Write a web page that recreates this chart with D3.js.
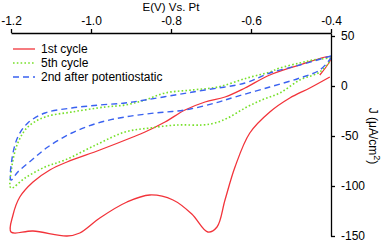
<!DOCTYPE html>
<html>
<head>
<meta charset="utf-8">
<script src="https://cdn.jsdelivr.net/npm/d3@7"></script>
<style>
  body { margin: 0; background: #fff; }
  svg { display: block; font-family: "Liberation Sans", Arial, sans-serif; }
  .axis path, .axis line { stroke: #000; stroke-width: 1.3; }
  .axis text { font-size: 12px; fill: #000; }
</style>
</head>
<body>
<div id="chart-area"></div>
<script>
// data: [E (V), J (uA/cm2)]
var cycle1 = [
  [-0.428, 11], [-0.40, 29], [-0.478, 21], [-0.553, 11], [-0.615, -2], [-0.665, -11],
  [-0.715, -16], [-0.765, -24], [-0.815, -36], [-0.865, -46], [-0.895, -51], [-0.978, -64],
  [-1.06, -76], [-1.103, -84], [-1.145, -96], [-1.178, -111], [-1.195, -129], [-1.20, -146],
  [-1.145, -145], [-1.06, -150], [-1.028, -147], [-0.978, -132], [-0.91, -116], [-0.853, -109],
  [-0.795, -114], [-0.748, -128], [-0.708, -146], [-0.685, -141], [-0.665, -114], [-0.64, -81],
  [-0.603, -47], [-0.553, -26], [-0.503, -12], [-0.453, -2], [-0.403, 9]
];
var cycle5 = [
  [-0.40, 28], [-0.445, 26], [-0.478, 23], [-0.528, 18], [-0.553, 14], [-0.61, 8],
  [-0.683, -1], [-0.748, -4], [-0.815, -7], [-0.865, -14], [-0.915, -19], [-0.965, -21],
  [-1.048, -26], [-1.115, -31], [-1.158, -41], [-1.183, -57], [-1.198, -81], [-1.20, -102],
  [-1.165, -92], [-1.115, -81], [-1.065, -74], [-0.983, -58], [-0.915, -46], [-0.853, -42],
  [-0.785, -39], [-0.723, -39], [-0.69, -37], [-0.658, -32], [-0.615, -22], [-0.573, -14],
  [-0.528, -7], [-0.478, 6], [-0.428, 14], [-0.40, 26]
];
var afterPot = [
  [-0.40, 30], [-0.478, 21], [-0.553, 13], [-0.615, 3], [-0.715, -4], [-0.79, -9],
  [-0.865, -14], [-0.915, -17], [-0.978, -19], [-1.048, -22], [-1.115, -27], [-1.158, -37],
  [-1.183, -51], [-1.198, -74], [-1.20, -94],
  [-1.183, -86], [-1.148, -74], [-1.108, -61], [-1.048, -47], [-0.983, -37], [-0.915, -31],
  [-0.84, -27], [-0.765, -24], [-0.69, -17], [-0.64, -11], [-0.553, -1], [-0.478, 8],
  [-0.428, 16], [-0.40, 28]
];
var seriesNames = ["1st cycle", "5th cycle", "2nd after potentiostatic"];
var xTicks = [-1.2, -1.0, -0.8, -0.6, -0.4];
var yTicks = [50, 0, -50, -100, -150];

var total_width = 389, total_height = 242;
var margin = {top: 33, right: 58, bottom: 6, left: 11};
var width = total_width - margin.left - margin.right;
var height = total_height - margin.top - margin.bottom;

var svg = d3.select('#chart-area').append('svg')
            .attr("width", total_width)
            .attr("height", total_height);

var chart = svg.append('g')
               .attr("transform", "translate(" + margin.left + "," + margin.top + ")");

var x = d3.scaleLinear().domain([-1.2, -0.4]).range([0, width]);
var y = d3.scaleLinear().domain([-150, 53]).range([height, 0]);

var styles = [
  {color: "#f2333a", dash: null, w: 1.3},
  {color: "#77e02a", dash: "1.6,2.2", w: 1.6},
  {color: "#3a62f0", dash: "6,4", w: 1.4}
];
var allData = [cycle1, cycle5, afterPot];

var line = d3.line()
             .x(function(d) { return x(d[0]); })
             .y(function(d) { return y(d[1]); })
             .curve(d3.curveCatmullRom.alpha(0.5));

allData.forEach(function(data, i) {
  chart.append("path")
       .datum(data)
       .attr("d", line)
       .attr("fill", "none")
       .attr("stroke", styles[i].color)
       .attr("stroke-width", styles[i].w)
       .attr("stroke-dasharray", styles[i].dash);
});

chart.append('g').attr("class", 'axis')
     .call(d3.axisTop(x).tickValues(xTicks).tickFormat(d3.format(".1f"))
            .tickSize(4).tickSizeOuter(0).tickPadding(4));

chart.append('g').attr("class", 'axis')
     .attr("transform", "translate(" + width + ",0)")
     .call(d3.axisRight(y).tickValues(yTicks).tickSize(4).tickSizeOuter(0).tickPadding(6));

svg.selectAll(".axis text").text(function() { return this.textContent.replace("−", "-"); });

svg.append("text")
   .attr("x", 171).attr("y", 11)
   .attr("text-anchor", "middle")
   .attr("font-size", "11.5px")
   .text("E(V) Vs. Pt");

var ylabel = svg.append("text")
   .attr("transform", "translate(369,136) rotate(90)")
   .attr("text-anchor", "middle")
   .attr("font-size", "12px");
ylabel.append("tspan").text("J (μA/cm");
ylabel.append("tspan").text("2").attr("font-size", "9px").attr("dy", "-0.6em");
ylabel.append("tspan").text(")").attr("dy", "0.45em");

var legend = svg.append("g");
seriesNames.forEach(function(name, i) {
  var ly = 49 + i * 14;
  legend.append("line")
        .attr("x1", 13).attr("x2", 35).attr("y1", ly).attr("y2", ly)
        .attr("stroke", styles[i].color)
        .attr("stroke-width", styles[i].w)
        .attr("stroke-dasharray", styles[i].dash);
  legend.append("text")
        .attr("x", 41).attr("y", ly + 4)
        .attr("font-size", "12px")
        .text(name);
});
</script>
</body>
</html>
